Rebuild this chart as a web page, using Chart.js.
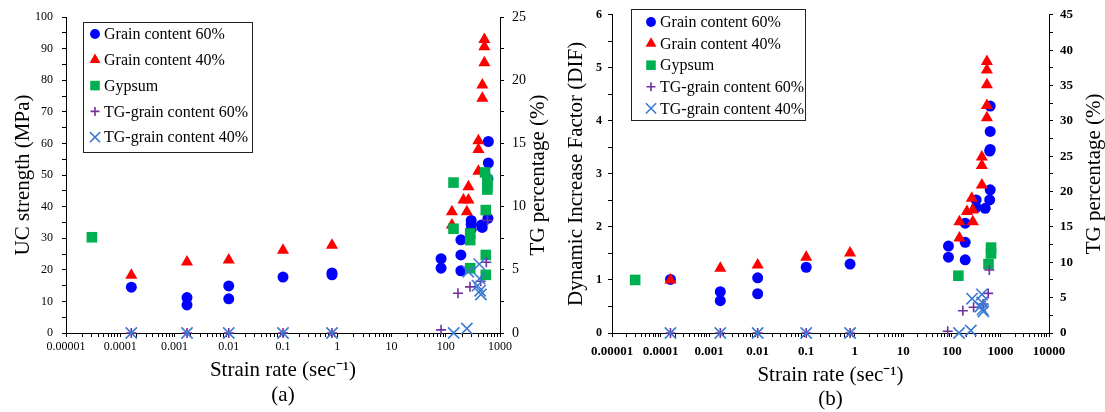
<!DOCTYPE html>
<html>
<head>
<meta charset="utf-8">
<script src="https://cdn.jsdelivr.net/npm/chart.js@4.4.0/dist/chart.umd.min.js"></script>
<style>
  html, body { margin: 0; padding: 0; background: #fff; }
  #wrap { position: relative; width: 1105px; height: 412px; overflow: hidden; background: #fff; }
  canvas { position: absolute; top: 0; }
  #chartA { left: 0; }
  #chartB { left: 552px; }
</style>
</head>
<body>
<div id="wrap">
  <canvas id="chartA" width="552" height="412"></canvas>
  <canvas id="chartB" width="553" height="412"></canvas>
</div>
<script>
// Legend names and axis labels
const seriesNames = ['Grain content 60%', 'Grain content 40%', 'Gypsum', 'TG-grain content 60%', 'TG-grain content 40%'];
const xTickLabels = ['0.00001', '0.0001', '0.001', '0.01', '0.1', '1', '10', '100', '1000', '10000'];
const xTitle = 'Strain rate (sec\u207B\u00B9)';

// (a) UC strength (MPa), points are [strain rate, value]
const ucGrain60 = [[0.00016, 14.5], [0.0017, 11.2], [0.0017, 8.9], [0.01, 14.9], [0.01, 10.8], [0.1, 17.7], [0.8, 18.4], [0.8, 19.0],
  [82, 23.5], [82, 20.5], [190, 29.5], [190, 24.7], [190, 19.7], [294, 35.6], [294, 34.4], [294, 32.8], [457, 34.2], [470, 33.4],
  [610, 60.6], [610, 53.8], [600, 48.8], [600, 36.3]];
const ucGrain40 = [[0.00016, 18.3], [0.0017, 22.5], [0.01, 23.1], [0.1, 26.2], [0.8, 27.8],
  [130, 38.4], [130, 34.2], [212, 42.1], [262, 42.1], [262, 46.3], [245, 38.4],
  [400, 60.8], [400, 58.1], [400, 51.2], [473, 78.5], [473, 74.3], [515, 92.9], [515, 90.6], [515, 85.5]];
const ucGypsum = [[0.00003, 30.3], [139, 47.6], [139, 33.0], [282, 31.5], [282, 29.4], [282, 20.5],
  [531, 50.8], [585, 48.4], [585, 46.8], [585, 45.4], [547, 38.9], [547, 24.7], [547, 18.4]];

// (b) Dynamic increase factor
const difGrain60 = [[0.00016, 1.01], [0.0017, 0.78], [0.0017, 0.61], [0.01, 1.04], [0.01, 0.74], [0.1, 1.24], [0.8, 1.30],
  [85, 1.64], [85, 1.43], [188, 2.07], [188, 1.71], [188, 1.38], [316, 2.51], [316, 2.37], [486, 2.35],
  [615, 2.70], [600, 2.51], [615, 3.46], [600, 3.43], [615, 3.80], [615, 4.28]];
const difGrain40 = [[0.00016, 1.0], [0.0017, 1.22], [0.01, 1.28], [0.1, 1.43], [0.8, 1.51],
  [143, 2.1], [143, 1.79], [204, 2.29], [270, 2.32], [257, 2.54], [270, 2.1],
  [414, 3.32], [414, 3.16], [414, 2.79], [526, 5.12], [526, 4.96], [526, 4.68], [526, 4.29], [526, 4.06]];
const difGypsum = [[0.00003, 1.0], [136, 1.08], [640, 1.61], [640, 1.50], [568, 1.30]];

// TG percentage (%), same in both panels
const tgGrain60 = [[0.00016, 0], [0.0017, 0], [0.01, 0], [0.1, 0], [0.8, 0],
  [82, 0.25], [168, 3.15], [280, 3.65], [440, 4.1], [560, 5.6], [590, 8.9]];
const tgGrain40 = [[0.00016, 0], [0.0017, 0], [0.01, 0], [0.1, 0], [0.8, 0],
  [140, 0], [245, 0.35], [260, 4.85], [415, 5.45], [385, 3.75], [430, 3.35], [445, 3.05], [420, 4.3]];

// marker look of each series
const markerStyles = [
  { pointStyle: 'circle', radius: 5.5, color: '#0000ff', line: 0 },
  { pointStyle: 'triangle', radius: 7, color: '#ff0000', line: 0 },
  { pointStyle: 'rect', radius: 7.5, color: '#00b050', line: 0 },
  { pointStyle: 'cross', radius: 5, color: '#7030a0', line: 1.6 },
  { pointStyle: 'crossRot', radius: 8, color: '#3a7ad4', line: 1.6 }
];

const serif = "'Liberation Serif', 'Times New Roman', serif";

function makeDataset(i, points, axis) {
  const s = markerStyles[i];
  return {
    label: seriesNames[i],
    data: points.map(p => ({ x: p[0], y: p[1] })),
    yAxisID: axis,
    pointStyle: s.pointStyle,
    pointRadius: s.radius,
    pointHoverRadius: s.radius,
    backgroundColor: s.color,
    borderColor: s.color,
    pointBorderWidth: s.line,
    showLine: false,
    clip: false,
    order: 5 - i
  };
}

function logTicks(fromExp, toExp) {
  const t = [];
  for (let e = fromExp; e < toExp; e++) {
    for (let m = 1; m <= 9; m++) t.push({ value: Number((m * Math.pow(10, e)).toPrecision(12)) });
  }
  t.push({ value: Math.pow(10, toExp) });
  return t;
}

function decadeLabel(v) {
  const e = Math.log10(v);
  if (Math.abs(e - Math.round(e)) > 1e-6) return '';
  return xTickLabels[Math.round(e) + 5];
}

function stepLabel(major) {
  return v => (Math.abs(v / major - Math.round(v / major)) < 1e-6 ? String(Math.round(v * 100) / 100) : '');
}

// right title (reads bottom to top) and boxed legend
function overlayPlugin(cfg) {
  return {
    id: 'overlay' + cfg.tag,
    afterDraw(chart) {
      const ctx = chart.ctx;
      const area = chart.chartArea;
      ctx.save();
      ctx.fillStyle = '#000';
      ctx.font = '21px ' + serif;
      ctx.textAlign = 'center';
      ctx.textBaseline = 'middle';
      ctx.translate(area.right + cfg.rightTitleOffset, (area.top + area.bottom) / 2);
      ctx.rotate(-Math.PI / 2);
      ctx.fillText('TG percentage (%)', 0, 0);
      ctx.restore();

      const lg = cfg.legend;
      ctx.save();
      ctx.strokeStyle = '#222';
      ctx.lineWidth = 1;
      ctx.strokeRect(lg.x + 0.5, lg.y + 0.5, lg.w, lg.h);
      ctx.font = '16px ' + serif;
      ctx.textAlign = 'left';
      ctx.textBaseline = 'middle';
      seriesNames.forEach((name, i) => {
        const s = markerStyles[i];
        const y = lg.y + lg.first + i * lg.step;
        ctx.fillStyle = s.color;
        ctx.strokeStyle = s.color;
        ctx.lineWidth = s.line;
        Chart.helpers.drawPoint(ctx, { pointStyle: s.pointStyle, radius: s.radius * 0.9, borderWidth: s.line, rotation: 0 }, lg.markerX, y);
        ctx.fillStyle = '#000';
        ctx.fillText(name, lg.textX, y + 1);
      });
      ctx.restore();
    }
  };
}

function makeChart(id, cfg) {
  return new Chart(document.getElementById(id), {
    type: 'scatter',
    data: {
      datasets: [
        makeDataset(0, cfg.g60, 'y'),
        makeDataset(1, cfg.g40, 'y'),
        makeDataset(2, cfg.gyp, 'y'),
        makeDataset(3, tgGrain60, 'y2'),
        makeDataset(4, tgGrain40, 'y2')
      ]
    },
    options: {
      responsive: false,
      animation: false,
      devicePixelRatio: 1,
      layout: { padding: { top: cfg.top, left: 0, right: 0, bottom: 0 } },
      plugins: { legend: { display: false }, tooltip: { enabled: false } },
      scales: {
        x: {
          type: 'logarithmic',
          min: 1e-5,
          max: Math.pow(10, cfg.xMaxExp),
          afterBuildTicks: s => { s.ticks = logTicks(-5, cfg.xMaxExp); },
          afterFit: s => { s.height = 79; },
          grid: { drawOnChartArea: false, color: '#000', tickLength: 4 },
          border: { color: '#000', width: 1 },
          ticks: { autoSkip: false, maxRotation: 0, minRotation: 0, padding: cfg.xPad, color: '#000', font: cfg.xFont, callback: decadeLabel },
          title: { display: true, text: [xTitle, '(' + cfg.tag + ')'], color: '#000',
            font: { family: serif, size: 21, lineHeight: cfg.titleLH }, padding: { top: 0, bottom: cfg.titlePB } }
        },
        y: {
          position: 'left',
          min: 0, max: cfg.yMax,
          afterFit: s => { s.width = cfg.leftW; },
          grid: { drawOnChartArea: false, color: '#000', tickLength: 4 },
          border: { color: '#000', width: 1 },
          ticks: { stepSize: cfg.yStep / 2, autoSkip: false, padding: cfg.yPad, color: '#000', font: cfg.yFont, callback: stepLabel(cfg.yStep) },
          title: { display: true, text: cfg.yTitle, color: '#000', font: { family: serif, size: 21 }, padding: { top: cfg.yTitlePad, bottom: 0 } }
        },
        y2: {
          position: 'right',
          min: 0, max: cfg.y2Max,
          afterFit: s => { s.width = cfg.rightW; },
          grid: { drawOnChartArea: false, color: '#000', tickLength: 4 },
          border: { color: '#000', width: 1 },
          ticks: { stepSize: 2.5, autoSkip: false, padding: cfg.y2Pad, color: '#000', font: cfg.y2Font, callback: stepLabel(5) }
        }
      }
    },
    plugins: [overlayPlugin(cfg)]
  });
}

makeChart('chartA', {
  tag: 'a', g60: ucGrain60, g40: ucGrain40, gyp: ucGypsum,
  top: 17, leftW: 66, rightW: 52, xMaxExp: 3,
  yMax: 100, yStep: 10, y2Max: 25,
  yTitle: 'UC strength (MPa)', yTitlePad: 11,
  xPad: 3, yPad: 9, y2Pad: 8,
  xFont: { family: serif, size: 12 }, yFont: { family: serif, size: 12 }, y2Font: { family: serif, size: 14 },
  titleLH: 1.2, titlePB: 4,
  rightTitleOffset: 38,
  legend: { x: 83, y: 22, w: 169, h: 130, first: 12, step: 25.8, markerX: 95, textX: 104 }
});

makeChart('chartB', {
  tag: 'b', g60: difGrain60, g40: difGrain40, gyp: difGypsum,
  top: 11, leftW: 60, rightW: 56, xMaxExp: 4,
  yMax: 6, yStep: 1, y2Max: 45,
  yTitle: 'Dynamic Increase Factor (DIF)', yTitlePad: 12,
  xPad: 7, yPad: 6, y2Pad: 7,
  xFont: { family: serif, size: 13, weight: 'bold' }, yFont: { family: serif, size: 12, weight: 'bold' }, y2Font: { family: serif, size: 13, weight: 'bold' },
  titleLH: 1.15, titlePB: 0,
  rightTitleOffset: 45,
  legend: { x: 79, y: 9, w: 174, h: 111, first: 13, step: 21.6, markerX: 99, textX: 108 }
});
</script>
</body>
</html>
